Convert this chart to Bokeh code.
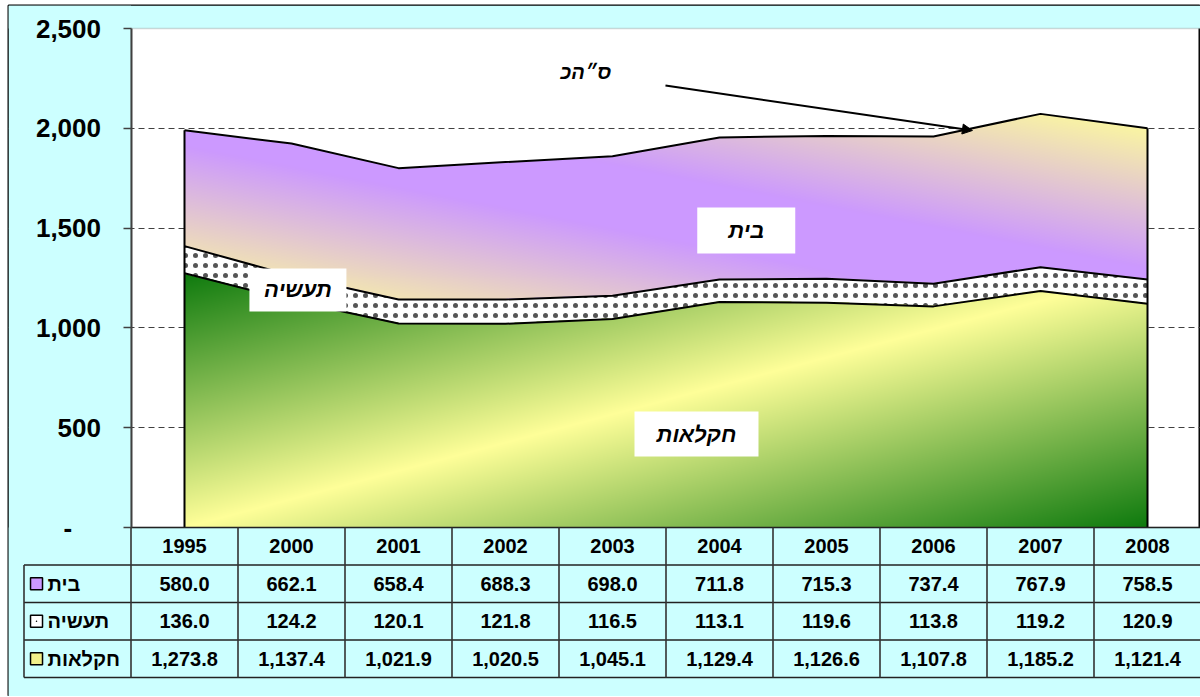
import numpy as np
from bokeh.plotting import figure
from bokeh.models import (FixedTicker, NumeralTickFormatter, BoxAnnotation, Range1d,
                          Arrow, NormalHead)
from bokeh.core.properties import value
from bokeh.embed import file_html
from bokeh.resources import INLINE

# ---------------- data ----------------
years = ["1995", "2000", "2001", "2002", "2003", "2004", "2005", "2006", "2007", "2008"]
bayit = [580.0, 662.1, 658.4, 688.3, 698.0, 711.8, 715.3, 737.4, 767.9, 758.5]
taasiya = [136.0, 124.2, 120.1, 121.8, 116.5, 113.1, 119.6, 113.8, 119.2, 120.9]
haklaut = [1273.8, 1137.4, 1021.9, 1020.5, 1045.1, 1129.4, 1126.6, 1107.8, 1185.2, 1121.4]
name_bayit = "בית"
name_taasiya = "תעשיה"
name_haklaut = "חקלאות"
total_label = "ס״הכ"
y_ticks = [0, 500, 1000, 1500, 2000, 2500]

# ---------------- style / layout ----------------
CYAN = "#CCFFFF"
YEL = np.array([255, 255, 153], dtype=float)
GRN = np.array([14, 122, 14], dtype=float)
PUR = np.array([204, 153, 255], dtype=float)
FONT = value("Liberation Sans")

W, H = 1200, 696
ML, MT = 8, 5            # white margin outside the chart border
FW, FH = W - ML, H - MT  # frame size
COL = 107.0              # px per category
PXU = 0.1996             # px per value unit
ROW = 37.5               # px per table row
ZERO_Y = 527 - MT        # px from frame top to value 0
x_start = -(184 - ML) / COL
x_end = x_start + FW / COL
y_end = ZERO_Y / PXU
y_start = -(FH - ZERO_Y) / PXU

xpos = np.arange(len(years), dtype=float)
b1 = np.array(haklaut)
b2 = b1 + np.array(taasiya)
b3 = b2 + np.array(bayit)

p = figure(width=W, height=H, x_range=Range1d(x_start, x_end),
           y_range=Range1d(y_start, y_end), x_axis_location=None,
           output_backend="svg", toolbar_location=None,
           min_border_left=ML, min_border_right=0, min_border_top=MT, min_border_bottom=0,
           background_fill_color="white", border_fill_color="white",
           outline_line_color="black", outline_line_width=2)
p.extra_y_ranges = {"tbl": Range1d(-(FH - ZERO_Y) / ROW, ZERO_Y / ROW)}

for g in p.grid:
    if g.dimension == 0:
        g.visible = False
p.ygrid.ticker = FixedTicker(ticks=y_ticks[1:-1])
p.ygrid.grid_line_color = "#404040"
p.ygrid.grid_line_dash = "6 4"
p.ygrid.grid_line_width = 1

# cyan covers outside the plot area (drawn after the grid)
for kw in (dict(right=-0.5), dict(top=0), dict(bottom=2500)):
    p.add_layout(BoxAnnotation(fill_color=CYAN, fill_alpha=1, line_alpha=0,
                               level="underlay", **kw))
p.add_layout(BoxAnnotation(left=-0.5, bottom=0, top=2500, fill_alpha=0,
                           line_color="#7f7f7f", line_width=1.5, level="underlay"))

# y axis
ax = p.yaxis[0]
ax.ticker = FixedTicker(ticks=y_ticks)
ax.formatter = NumeralTickFormatter(format="0,0")
ax.major_label_overrides = {0: "-\u00a0\u00a0\u00a0\u00a0"}
ax.fixed_location = -0.5
ax.bounds = (0, 2500)
ax.axis_line_color = "#404040"
ax.axis_line_width = 2
ax.major_tick_line_color = "#404040"
ax.major_tick_line_width = 1.5
ax.major_tick_out = 8
ax.major_tick_in = 0
ax.minor_tick_out = 0
ax.minor_tick_in = 0
ax.major_label_text_font = "Liberation Sans"
ax.major_label_text_font_style = "bold"
ax.major_label_text_font_size = "26px"
ax.major_label_text_color = "black"
ax.major_label_standoff = 22

# ---------------- areas ----------------
p.varea(x=xpos, y1=0, y2=b1, fill_color="#E6EA86")
p.varea(x=xpos, y1=b1, y2=b2, fill_color="white", hatch_pattern="dot",
        hatch_color="#555555", hatch_scale=10, hatch_weight=0.4)
p.varea(x=xpos, y1=b2, y2=b3, fill_color="#DDB8EE")

# gradient fills computed from the same series
nx, ny, top_img = 964, 420, 2100.0
X = ((np.arange(nx) + 0.5) / nx * xpos[-1])[None, :]
Y = ((np.arange(ny) + 0.5) / ny * top_img)[:, None]
i1 = np.interp(X[0], xpos, b1)[None, :]
i2 = np.interp(X[0], xpos, b2)[None, :]
i3 = np.interp(X[0], xpos, b3)[None, :]
gmask = Y < i1
pmask = (Y >= i2) & (Y < i3)
gmax = b1.max()
tg = (X / xpos[-1] + (gmax - Y) / gmax) / 2
wg = np.clip(1 - np.abs(2 * tg - 1), 0, 1)[..., None]
rgb_g = GRN * (1 - wg) + YEL * wg
plo, phi = b2.min(), b3.max()
tp = (X / xpos[-1] + (Y - plo) / (phi - plo)) / 2
wp = np.clip(1.2 * (1 - np.abs(2 * tp - 1)), 0, 1)[..., None]
rgb_p = YEL * (1 - wp) + PUR * wp
rgb = np.where(gmask[..., None], rgb_g, rgb_p)
alpha = np.where(gmask | pmask, 255, 0)
img = np.zeros((ny, nx), dtype=np.uint32)
view = img.view(dtype=np.uint8).reshape((ny, nx, 4))
view[..., 0] = rgb[..., 0].astype(np.uint8)
view[..., 1] = rgb[..., 1].astype(np.uint8)
view[..., 2] = rgb[..., 2].astype(np.uint8)
view[..., 3] = alpha.astype(np.uint8)
p.image_rgba(image=[img], x=0, y=0, dw=xpos[-1], dh=top_img)

# outlines
for top in (b1, b2, b3):
    p.line(xpos, top, line_color="black", line_width=2)
p.segment(x0=[xpos[0], xpos[-1]], y0=[0, 0], x1=[xpos[0], xpos[-1]],
          y1=[b3[0], b3[-1]], line_color="black", line_width=2)

# labels on the chart
lab_x = [5.25, 1.06, 4.785]
lab_y = [1488, 1190, 468]
lab_w = [98, 97, 124]
lab_h = [46, 43, 45]
p.rect(x=lab_x, y=lab_y, width=lab_w, height=lab_h, width_units="screen",
       height_units="screen", fill_color="white", line_alpha=0)
p.text(x=lab_x, y=lab_y, text=[name_bayit, name_taasiya, name_haklaut],
       text_font=FONT, text_font_style="bold italic", text_font_size="22px",
       text_align="center", text_baseline="middle", text_color="black")
p.text(x=[3.75], y=[2280], text=[total_label], text_font=FONT,
       text_font_style="bold italic", text_font_size="20px",
       text_align="center", text_baseline="middle", text_color="black")
p.add_layout(Arrow(end=NormalHead(size=10, fill_color="black", line_color="black"),
                   x_start=4.495, y_start=2214, x_end=7.364, y_end=1989,
                   line_width=2, line_color="black"))

# ---------------- data table ----------------
tfont = dict(text_font=FONT, text_font_style="bold", text_font_size="20px",
             text_color="black", y_range_name="tbl", text_baseline="middle")
p.text(x=xpos, y=[-0.5] * len(years), text=years, text_align="center", **tfont)
rows = [(name_bayit, bayit, "#CC99FF"), (name_taasiya, taasiya, "white"),
        (name_haklaut, haklaut, "#F2F08A")]
for r, (nm, vals, col) in enumerate(rows):
    yy = -(r + 1.5)
    p.text(x=xpos, y=[yy] * len(vals), text=[f"{v:,.1f}" for v in vals],
           text_align="center", **tfont)
    p.text(x=[-1.28], y=[yy], text=[nm], text_align="left", **tfont)
    p.scatter(x=[-1.383], y=[yy], marker="square", size=12, fill_color=col,
              line_color="black", line_width=1.5, y_range_name="tbl")
p.scatter(x=[-1.383], y=[-2.5], marker="dot", size=6, fill_color="black",
          line_color="black", y_range_name="tbl")

hx0 = [-0.5, -1.5, -1.5, -1.5, -1.5]
hy = [0, -1, -2, -3, -4]
p.segment(x0=hx0, y0=hy, x1=[x_end] * 5, y1=hy, line_color="#222222",
          line_width=1.6, y_range_name="tbl")
vx = [-1.5] + [k - 0.5 for k in range(len(years))]
vy0 = [-1] + [0] * len(years)
p.segment(x0=vx, y0=vy0, x1=vx, y1=[-4] * len(vx), line_color="#333333",
          line_width=1.6, y_range_name="tbl")

open("out.html", "w").write(file_html(p, INLINE, "chart"))
